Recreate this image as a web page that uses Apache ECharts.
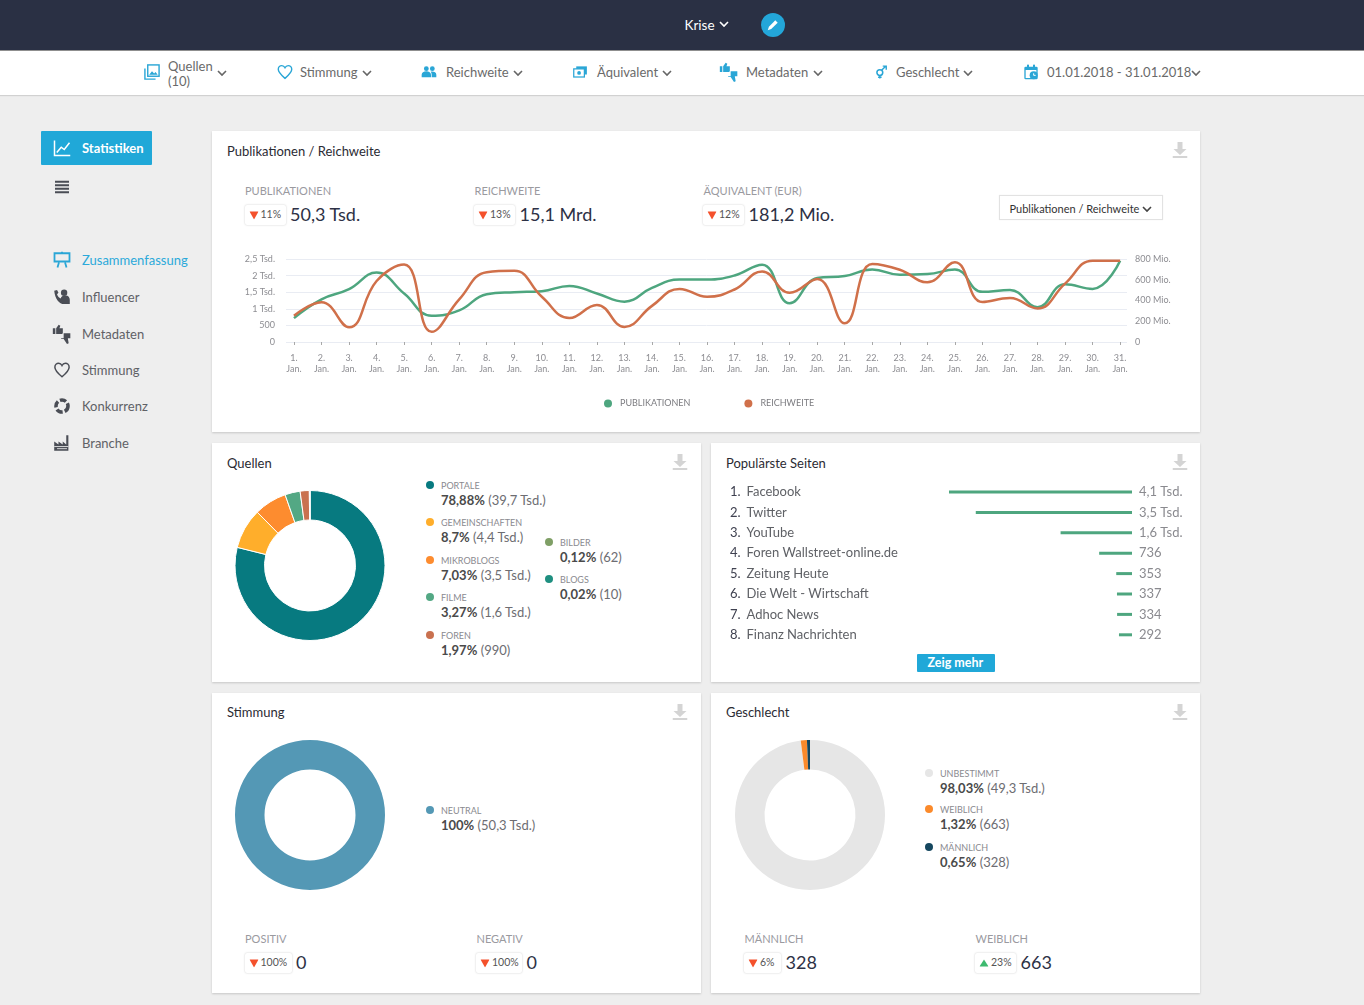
<!DOCTYPE html>
<html lang="de"><head><meta charset="utf-8"><title>Krise</title>
<script src="https://cdn.jsdelivr.net/npm/echarts@6/dist/echarts.min.js"></script>
<style>
html,body{margin:0;padding:0;width:1364px;height:1005px;overflow:hidden;background:#eee;font-family:Lato,"Open Sans",sans-serif;color:#555}
.box{position:absolute;box-sizing:border-box}
.card{background:#fff;box-shadow:0 1px 2px rgba(0,0,0,.16)}
.t{position:absolute;white-space:nowrap;transform:translateY(-50%);line-height:1.1}
.ic{position:absolute;transform:translate(-50%,-50%)}
.b{font-weight:700;color:#4a4a4a}
#chart{position:absolute;left:0;top:0;width:1364px;height:1005px;pointer-events:none}
</style></head><body>
<div id="ui"></div><div id="chart"></div>
<script>
// ---------- data ----------
const days = ['1.','2.','3.','4.','5.','6.','7.','8.','9.','10.','11.','12.','13.','14.','15.','16.','17.','18.','19.','20.','21.','22.','23.','24.','25.','26.','27.','28.','29.','30.','31.'];
const publikationen = [720,1285,1590,2095,1460,790,950,1440,1500,1530,1690,1460,1215,1630,1880,1880,2005,2330,1165,1925,1985,2185,2025,2045,2185,1510,1570,1050,1740,1600,2450];
const reichweite = [253,383,142,588,746,98,411,673,686,436,231,357,145,348,512,436,506,680,474,607,180,753,696,575,768,386,424,323,563,784,784];
const leftTicks = {0:'0',500:'500',1000:'1 Tsd.',1500:'1,5 Tsd.',2000:'2 Tsd.',2500:'2,5 Tsd.'};
const rightTicks = {0:'0',200:'200 Mio.',400:'400 Mio.',600:'600 Mio.',800:'800 Mio.'};

const quellenNames = ['PORTALE','GEMEINSCHAFTEN','MIKROBLOGS','FILME','FOREN','BILDER','BLOGS'];
const quellenShare = [78.88,8.7,7.03,3.27,1.97,0.12,0.02];
const quellenText = ['78,88%','8,7%','7,03%','3,27%','1,97%','0,12%','0,02%'];
const quellenAbs = ['(39,7 Tsd.)','(4,4 Tsd.)','(3,5 Tsd.)','(1,6 Tsd.)','(990)','(62)','(10)'];
const quellenColors = ['#077a80','#ffae2b','#fd8c2f','#53a884','#c9714f','#7f9f66','#1f8f80'];

const seiten = ['Facebook','Twitter','YouTube','Foren Wallstreet-online.de','Zeitung Heute','Die Welt - Wirtschaft','Adhoc News','Finanz Nachrichten'];
const seitenWerte = [4100,3500,1600,736,353,337,334,292];
const seitenText = ['4,1 Tsd.','3,5 Tsd.','1,6 Tsd.','736','353','337','334','292'];

const stimmungNames = ['NEUTRAL'];
const stimmungShare = [100];
const geschlechtNames = ['UNBESTIMMT','WEIBLICH','MÄNNLICH'];
const geschlechtShare = [98.03,1.32,0.65];
const geschlechtText = ['98,03%','1,32%','0,65%'];
const geschlechtAbs = ['(49,3 Tsd.)','(663)','(328)'];
const geschlechtColors = ['#e6e6e6','#fb8a2b','#15475f'];

// ---------- page chrome ----------
const ui = document.getElementById('ui');
let h = '';
const box = (x,y,w,ht,css,cls='box') => { h += `<div class="${cls}" style="left:${x}px;top:${y}px;width:${w}px;height:${ht}px;${css}"></div>`; };
const t = (x,y,s,css='') => { h += `<div class="t" style="left:${x}px;top:${y}px;${css}">${s}</div>`; };
const svg = (x,y,w,ht,inner,vb) => { h += `<svg class="ic" style="left:${x}px;top:${y}px" width="${w}" height="${ht}" viewBox="${vb||'0 0 24 24'}">${inner}</svg>`; };
const chev = (x,y,c='#666') => svg(x,y,10,7,`<path d="M1 1.5 5 5.5 9 1.5" fill="none" stroke="${c}" stroke-width="1.6"/>`,'0 0 10 7');
const BLUE = '#2aa6d6', DARK = '#4a4d55';

box(0,0,1364,50,'background:#2a3044;box-shadow:0 1px 1px rgba(0,0,0,.4)');
box(0,51,1364,44,'background:#fff;box-shadow:0 1px 1px rgba(0,0,0,.12)');
t(684.5,25,'Krise','color:#fff;font-size:13.5px');
chev(724,24,'#fff');
box(761,13,24,24,'background:#23a6d9;border-radius:50%/50%');
svg(773,25,14,14,'<path d="M3 21 5 15 16 4 20 8 9 19Z" fill="#fff"/>');

const nav = [[300,72,'Stimmung',367],[446,72,'Reichweite',518],[597,72,'Äquivalent',667],[746,72,'Metadaten',818],[896,72,'Geschlecht',968],[1047,72,'01.01.2018 - 31.01.2018',1196]];
const NAVT = 'color:#6a6a6a;font-size:13px';
t(168,65.5,'Quellen',NAVT); t(168,80.5,'(10)',NAVT); chev(221.5,73);
nav.forEach(n => { t(n[0],n[1],n[2],NAVT); chev(n[3],73); });
svg(152,72,18,17,`<rect x="6" y="2" width="16" height="16" fill="none" stroke="${BLUE}" stroke-width="2"/><path d="M2 7v15h15" fill="none" stroke="${BLUE}" stroke-width="2"/><path d="M8 16l4-5 3 3 2-2 3 4z" fill="${BLUE}"/>`);
const heart = c => `<path d="M12 21C5 15 2.5 12 2.5 8.2 2.5 5 5 3 7.5 3 9.5 3 11 4 12 6 13 4 14.5 3 16.5 3 19 3 21.5 5 21.5 8.2 21.5 12 19 15 12 21Z" fill="none" stroke="${c}" stroke-width="2"/>`;
svg(285,72,17,17,heart(BLUE));
svg(429,72,18,16,`<circle cx="8" cy="7" r="3.6" fill="${BLUE}"/><circle cx="17" cy="7" r="3.6" fill="${BLUE}"/><path d="M1 20v-4c0-3 3-5 7-5s7 2 7 5v4ZM16 20v-4c0-2-.6-3.300-1.500-4.500 4-1 8.500 1 8.500 4.500v4Z" fill="${BLUE}"/>`);
svg(580,72,18,15,`<rect x="6" y="3" width="17" height="13" fill="${BLUE}"/><rect x="2" y="7" width="17" height="13" fill="#fff" stroke="${BLUE}" stroke-width="2"/><circle cx="10.500" cy="13.500" r="3" fill="${BLUE}"/>`);
const thumbs = c => `<path d="M1 5h3v7H1ZM5 5l3-4 2 1-1 3h4v6l-1 1H5ZM14 11h8v6h-3l1 6-2 1-4-6h-3v-1h3Z" fill="${c}"/>`;
svg(729,72,21,20,thumbs(BLUE));
svg(881,72,14,18,`<circle cx="10" cy="13" r="5" fill="none" stroke="${BLUE}" stroke-width="2.600"/><path d="M10 18v5M7 21h6M13 9l7-7M15 2h6v6" fill="none" stroke="${BLUE}" stroke-width="2.400"/>`);
svg(1031,72,16,17,`<rect x="2" y="4" width="20" height="19" rx="2" fill="${BLUE}"/><rect x="4" y="9" width="16" height="12" fill="#fff"/><rect x="6" y="1" width="3" height="5" fill="${BLUE}"/><rect x="15" y="1" width="3" height="5" fill="${BLUE}"/><circle cx="16" cy="17" r="6" fill="${BLUE}"/><path d="M16 14v3h3" stroke="#fff" stroke-width="1.500" fill="none"/>`);

// sidebar
box(41,131,110.5,34,'background:#20a8d8;border-radius:1px');
svg(62,148,21,18,'<path d="M2 2v20h21" fill="none" stroke="#fff" stroke-width="2"/><path d="M5 18l6-7 4 3 7-9" fill="none" stroke="#fff" stroke-width="2"/>');
t(82,148,'Statistiken','color:#fff;font-weight:700;font-size:13px');
svg(62,187,15,14,`<path d="M0 3h24M0 9h24M0 15h24M0 21h24" stroke="${DARK}" stroke-width="3.400"/>`);
const side = [[260,'Zusammenfassung'],[297,'Influencer'],[333.5,'Metadaten'],[370,'Stimmung'],[406,'Konkurrenz'],[443,'Branche']];
side.forEach((s,i)=> t(82,s[0],s[1],`font-size:13px;color:${i?'#5f6166':'#2ba9da'}`));
svg(62,260,18,20,`<path d="M2 3h20v11H2Z" fill="none" stroke="${BLUE}" stroke-width="2.400"/><path d="M8 15l-2 7M16 15l2 7M12 1v3" stroke="${BLUE}" stroke-width="2.400" fill="none"/>`);
svg(61.500,297,20,17,`<circle cx="15" cy="6" r="4.500" fill="${DARK}"/><path d="M1 3l4-1 2 4-2 2c1 3 3 5 5 6 1-3 4-4 7-4 4 0 6 3 6 6v6h-8C8 22 2 14 1 3Z" fill="${DARK}"/>`);
svg(62,333.500,23,20,thumbs(DARK));
svg(62,370,19,18,heart(DARK));
svg(62,406,17,17,`<circle cx="12" cy="12" r="8.500" fill="none" stroke="${DARK}" stroke-width="5" stroke-dasharray="9 3"/>`);
svg(62,443,19,17,`<path d="M1 23V10l6 4v-4l6 4v-4l5 4V1h3v22Z" fill="${DARK}"/><path d="M1 17h20M5 20h14" stroke="#eee" stroke-width="1.200"/>`);

// cards
const dl = (x,y) => svg(x,y,15,16,'<path d="M5 0h5v7h4l-6.500 6L1 7h4ZM0 14h15v2H0Z" fill="#d4d4d4"/>','0 0 15 16');
[[212,131,988,301],[212,443,489,238.500],[711,443,489,238.500],[212,693,489,300],[711,693,489,300]].forEach(c=>box(c[0],c[1],c[2],c[3],'','box card'));
const TT = 'font-size:13px;color:#2b2b33';
t(227,150.500,'Publikationen / Reichweite',TT); dl(1180,150);
t(227,462.500,'Quellen',TT); dl(680,462);
t(726,462.500,'Populärste Seiten',TT); dl(1180,462);
t(227,711.500,'Stimmung',TT); dl(680,712);
t(726,711.500,'Geschlecht',TT); dl(1180,712);

const kpi = (x,y,label,pct,val,w,up) => {
  t(x+.5,y,label,'font-size:11px;color:#9a9a9f');
  box(x,y+14,w,20,'background:#fff;border-radius:2px;box-shadow:0 0 2px rgba(0,0,0,.22)');
  svg(x+9,y+23.500,9,9,up?'<path d="M5 1 10 9H0Z" fill="#3dba6f"/>':'<path d="M5 10 0 1H10Z" fill="#f4512c"/>','0 0 10 10');
  t(x+16,y+24,pct,'font-size:10.500px;color:#555');
  t(x+w+4.500,y+24,val,'font-size:18px;color:#2d3145');
};
kpi(244.500,191,'PUBLIKATIONEN','11%','50,3 Tsd.',41);
kpi(474,191,'REICHWEITE','13%','15,1 Mrd.',41);
kpi(703,191,'ÄQUIVALENT (EUR)','12%','181,2 Mio.',41);
kpi(244.500,939,'POSITIV','100%','0',47);
kpi(476,939,'NEGATIV','100%','0',46);
kpi(744,939,'MÄNNLICH','6%','328',37);
kpi(975,939,'WEIBLICH','23%','663',41,true);
box(999,195,164,25,'background:#fff;border:1px solid #e2e2e2;box-shadow:0 0 1px rgba(0,0,0,.08)');
t(1009.500,208.500,'Publikationen / Reichweite','font-size:11px;color:#333');
chev(1146.500,209,'#444');

const leg = (x,dotY,label,pct,abs,color,rowX) => {
  box(x-4,dotY-4,8,8,`background:${color};border-radius:50%`);
  t(rowX,dotY+1,label,'font-size:9px;color:#8a8a8f');
  t(rowX,dotY+15,`<span class="b">${pct}</span> ${abs}`,'font-size:13px;color:#6d6d72');
};
const qy = [485,522,560,597,634.500,541.500,578.500];
quellenNames.forEach((n,i)=>{ const second=i>4; leg(second?549:430,qy[i],n,quellenText[i],quellenAbs[i],quellenColors[i],second?560:441); });
leg(430,809.500,stimmungNames[0],'100%','(50,3 Tsd.)','#5498b5',441);
const gy = [772.500,809,846.500];
geschlechtNames.forEach((n,i)=>leg(929,gy[i],n,geschlechtText[i],geschlechtAbs[i],geschlechtColors[i],940));

box(917,654,77.500,18,'background:#20a8d8;border-radius:1px');
t(927.500,663,'Zeig mehr','color:#fff;font-weight:700;font-size:12.500px');
ui.innerHTML = h;

// ---------- chart ----------
const AX = {fontFamily:'Lato',fontSize:9,color:'#8d8d92'};
const tickFmt = map => v => map[v] === undefined ? '' : map[v];
const pie = (center,names,vals,colors,border) => ({
  type:'pie',center,radius:[45.500,75],startAngle:90,clockwise:true,silent:true,animation:false,
  label:{show:false},labelLine:{show:false},minAngle:0,
  itemStyle:{borderColor:'#fff',borderWidth:border},
  data:names.map((n,i)=>({name:n,value:vals[i],itemStyle:{color:colors[i]}}))
});
const chart = echarts.init(document.getElementById('chart'),null,{renderer:'canvas'});
chart.setOption({
  animation:false,backgroundColor:'transparent',
  legend:{show:true,left:599,top:394,itemWidth:8,itemHeight:8,itemGap:54,icon:'circle',selectedMode:false,
    data:['PUBLIKATIONEN','REICHWEITE'],
    textStyle:{fontFamily:'Lato',fontSize:9,color:'#7c7c80',padding:[0,0,0,3]}},
  grid:[
    {left:286,top:259,width:841,height:83},
    {left:949,top:481.800,width:183,height:163.200}
  ],
  xAxis:[
    {gridIndex:0,type:'value',min:0.710,max:31.250,offset:8,splitLine:{show:false},axisLine:{show:false},
      axisTick:{show:true,length:3,lineStyle:{color:'#a8a8a8'},customValues:days.map((d,i)=>i+1)},
      axisLabel:{...AX,margin:3,lineHeight:11,customValues:days.map((d,i)=>i+1),
        formatter:v=>days[v-1]+'\nJan.'}},
    {gridIndex:1,type:'value',inverse:true,min:0,max:4100,show:false}
  ],
  yAxis:[
    {gridIndex:0,type:'value',min:0,max:2500,interval:500,position:'left',axisLine:{show:false},axisTick:{show:false},
      axisLabel:{...AX,margin:11,formatter:tickFmt(leftTicks)},splitLine:{lineStyle:{color:'#e9ecf3',width:1}}},
    {gridIndex:0,type:'value',min:0,max:800,interval:200,position:'right',axisLine:{show:false},axisTick:{show:false},
      axisLabel:{...AX,margin:8,formatter:tickFmt(rightTicks)},splitLine:{show:false}},
    {gridIndex:1,type:'category',inverse:true,data:seiten,position:'left',axisLine:{show:false,onZero:false},axisTick:{show:false},
      axisLabel:{align:'left',margin:219,fontFamily:'Lato',fontSize:13,color:'#5f6166',
        formatter:(v,i)=>`{n|${i+1}.}{m|${v}}`,
        rich:{n:{width:16.500,fontFamily:'Lato',fontSize:13,color:'#3f4150'},m:{fontFamily:'Lato',fontSize:13,color:'#5f6166'}}}},
    {gridIndex:1,type:'category',inverse:true,data:seitenText,position:'right',axisLine:{show:false,onZero:false},axisTick:{show:false},
      axisLabel:{margin:7,fontFamily:'Lato',fontSize:13,color:'#8a8a8f'}}
  ],
  series:[
    {name:'PUBLIKATIONEN',type:'line',xAxisIndex:0,yAxisIndex:0,smooth:0.45,showSymbol:false,silent:true,
      lineStyle:{color:'#4ea67f',width:2.500},itemStyle:{color:'#4ea67f'},
      data:publikationen.map((v,i)=>[i+1,v])},
    {name:'REICHWEITE',type:'line',xAxisIndex:0,yAxisIndex:1,smooth:0.45,showSymbol:false,silent:true,
      lineStyle:{color:'#d0704a',width:2.500},itemStyle:{color:'#d0704a'},
      data:reichweite.map((v,i)=>[i+1,v])},
    {type:'bar',xAxisIndex:1,yAxisIndex:2,data:seitenWerte,barWidth:3,silent:true,itemStyle:{color:'#4ea67f'}},
    pie([310,565.500],quellenNames,quellenShare,quellenColors,1),
    pie([310,815],stimmungNames,stimmungShare,['#5498b5'],0),
    pie([810,815],geschlechtNames,geschlechtShare,geschlechtColors,0)
  ]
});
</script>
</body></html>
